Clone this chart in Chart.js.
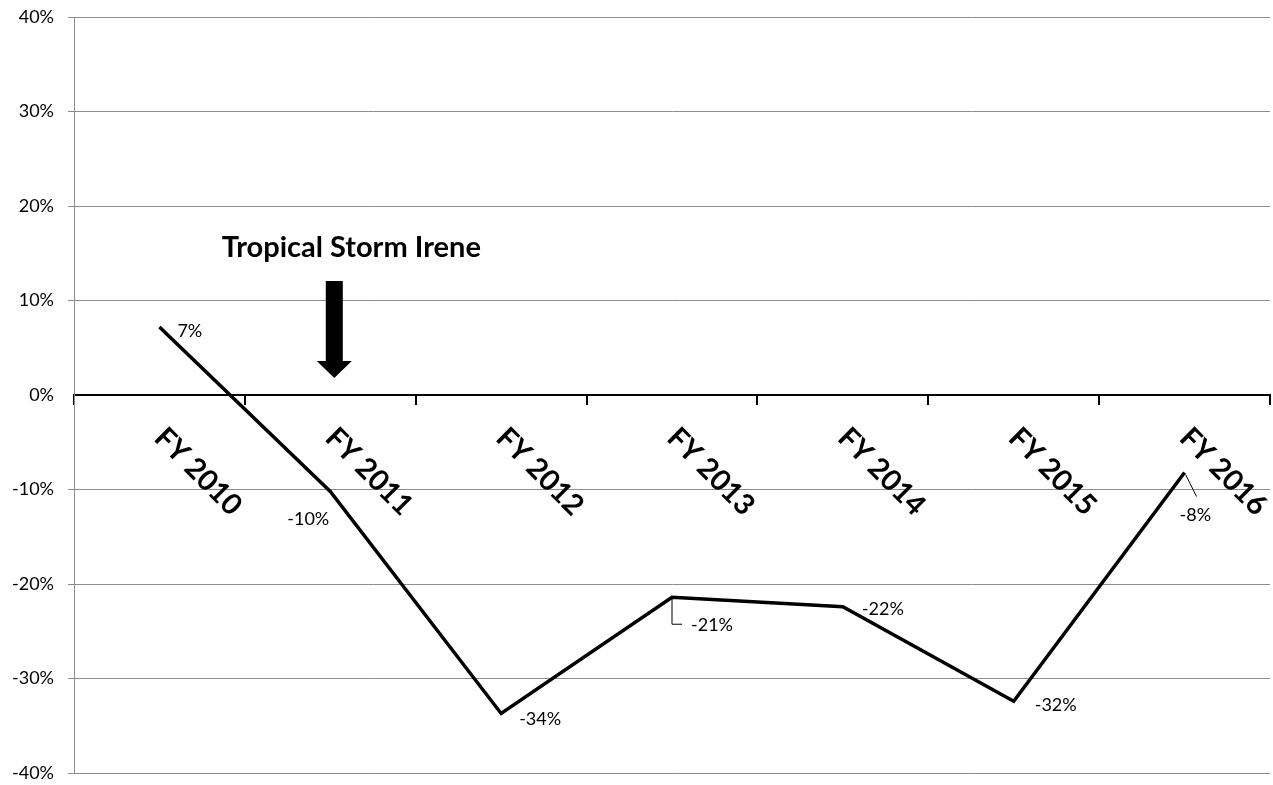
<!DOCTYPE html>
<html>
<head>
<meta charset="utf-8">
<script src="https://cdn.jsdelivr.net/npm/chart.js@4.4.1/dist/chart.umd.min.js"></script>
<style>
  html, body { margin: 0; padding: 0; background: #fff; }
  #wrap { width: 1273px; height: 785px; }
</style>
</head>
<body>
<div id="wrap"><canvas id="fyChart"></canvas></div>
<script>
const fiscalYears = ["FY 2010", "FY 2011", "FY 2012", "FY 2013", "FY 2014", "FY 2015", "FY 2016"];
const changePct = [7.2, -10.2, -33.7, -21.4, -22.4, -32.4, -8.2];
const yTicks = [40, 30, 20, 10, 0, -10, -20, -30, -40];
const stormYearIndex = 1;
const stormText = "Tropical Storm Irene";

// where each value label sits relative to its point: [dx, dy, align, leader]
const labelPlacement = [
  [18, 4, "left", null],
  [-1, 28, "right", null],
  [18, 6, "left", null],
  [19, 28, "left", [[0, 0], [0, 27], [10, 27]]],
  [19, 3, "left", null],
  [21, 4, "left", null],
  [-5, 43, "left", [[1, 2], [12, 24]]],
];

const fontName = "Lato, 'Open Sans', sans-serif";

const extrasPlugin = {
  id: "extras",
  afterDatasetsDraw(chart) {
    const ctx = chart.ctx;
    const xs = chart.scales.x;
    const ys = chart.scales.y;
    const zeroY = ys.getPixelForValue(0);
    const pts = chart.getDatasetMeta(0).data;

    ctx.save();

    // rotated category labels below the zero line
    ctx.fillStyle = "#000";
    ctx.font = "bold 29px " + fontName;
    ctx.textAlign = "left";
    ctx.textBaseline = "middle";
    fiscalYears.forEach((lab, i) => {
      const cx = xs.getPixelForValue(i);
      ctx.save();
      ctx.translate(cx, zeroY + 38);
      ctx.rotate(Math.PI / 4);
      ctx.fillText(lab, 0, 0);
      ctx.restore();
    });

    // value labels
    ctx.font = "18px " + fontName;
    ctx.lineWidth = 1;
    ctx.strokeStyle = "#000";
    pts.forEach((p, i) => {
      const [dx, dy, align, leader] = labelPlacement[i];
      if (leader) {
        ctx.beginPath();
        leader.forEach(([lx, ly], k) => {
          if (k === 0) ctx.moveTo(p.x + lx, p.y + ly);
          else ctx.lineTo(p.x + lx, p.y + ly);
        });
        ctx.stroke();
      }
      ctx.textAlign = align;
      ctx.fillText(Math.round(changePct[i]) + "%", p.x + dx, p.y + dy);
    });

    // storm annotation + arrow
    const ax = xs.getPixelForValue(stormYearIndex) + 4;
    ctx.font = "bold 29px " + fontName;
    ctx.textAlign = "center";
    ctx.textBaseline = "alphabetic";
    ctx.fillText(stormText, ax + 17, 257);

    ctx.beginPath();
    ctx.moveTo(ax - 8.5, 281);
    ctx.lineTo(ax + 8.5, 281);
    ctx.lineTo(ax + 8.5, 361);
    ctx.lineTo(ax + 17.5, 361);
    ctx.lineTo(ax, 378);
    ctx.lineTo(ax - 17.5, 361);
    ctx.lineTo(ax - 8.5, 361);
    ctx.closePath();
    ctx.fill();

    ctx.restore();
  },
};

const dataLine = {
  labels: fiscalYears,
  datasets: [
    {
      label: "change",
      data: changePct,
      borderColor: "#000",
      borderWidth: 3.5,
      pointRadius: 0,
      fill: false,
      tension: 0,
    },
  ],
};

const configLine = {
  type: "line",
  data: dataLine,
  options: {
    responsive: true,
    maintainAspectRatio: false,
    animation: false,
    layout: {
      padding: { left: 0, right: 3, top: 17, bottom: 12 },
    },
    plugins: {
      legend: { display: false },
      tooltip: { enabled: false },
    },
    scales: {
      x: {
        type: "category",
        position: { y: 0 },
        offset: true,
        afterFit: (scale) => {
          scale.paddingTop = 0;
          scale.paddingBottom = 0;
        },
        grid: {
          offset: true,
          drawOnChartArea: false,
          drawTicks: true,
          tickLength: 9,
          color: "#000",
          lineWidth: 2,
        },
        border: { color: "#000", width: 2 },
        ticks: { display: false },
      },
      y: {
        min: -40,
        max: 40,
        afterBuildTicks: (scale) => {
          scale.ticks = yTicks.map((v) => ({ value: v }));
        },
        afterFit: (scale) => {
          scale.width = 74;
          scale.paddingTop = 0;
          scale.paddingBottom = 0;
        },
        grid: {
          color: (c) => (c.tick && c.tick.value === 0 ? "rgba(0,0,0,0)" : "#8c8c8c"),
          tickLength: 6,
          lineWidth: 1,
        },
        border: { color: "#8c8c8c", width: 1 },
        ticks: {
          padding: 14,
          color: "#000",
          font: { family: fontName, size: 18 },
          callback: (v) => v + "%",
        },
      },
    },
  },
  plugins: [extrasPlugin],
};

const fyChart = new Chart(document.getElementById("fyChart"), configLine);
</script>
</body>
</html>
